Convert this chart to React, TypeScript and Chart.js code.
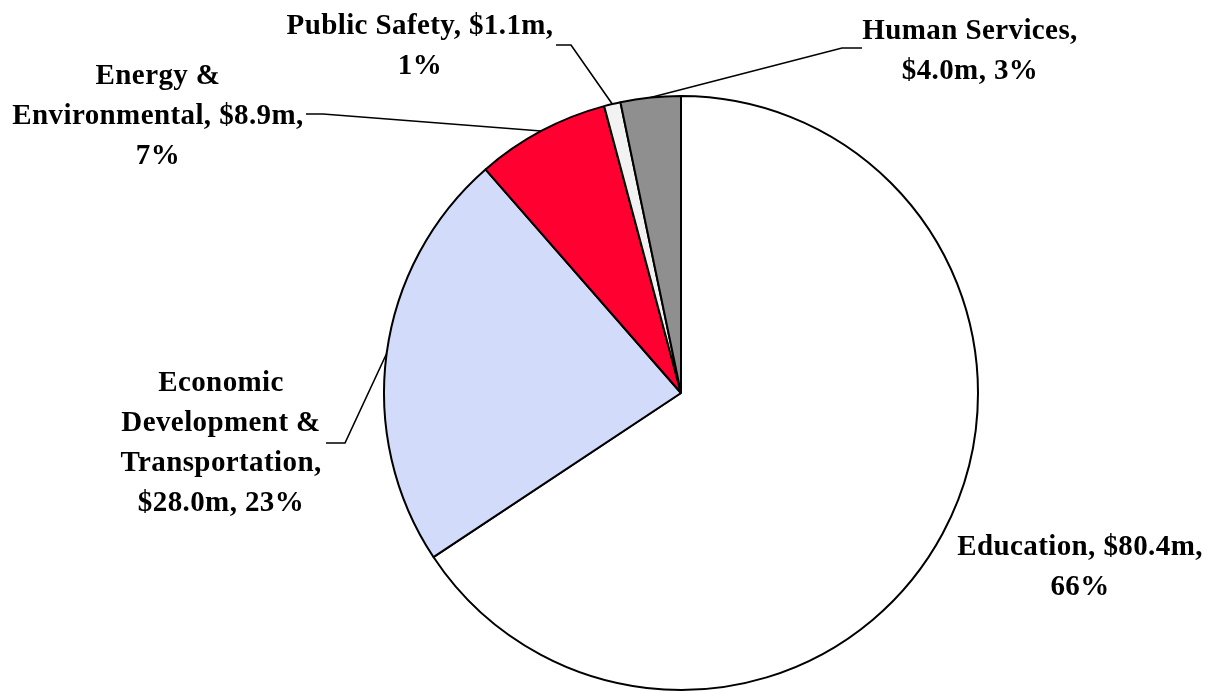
import React, { useEffect, useRef } from "react";
import { Chart, registerables } from "chart.js";

Chart.register(...registerables);

const categories = [
  "Education",
  "Economic Development & Transportation",
  "Energy & Environmental",
  "Public Safety",
  "Human Services",
];
const valuesMillions = [80.4, 28.0, 8.9, 1.1, 4.0];
const percentLabels = ["66%", "23%", "7%", "1%", "3%"];
const sliceColors = ["#FFFFFF", "#D3DBFB", "#FF0030", "#F2F2F2", "#8F8F8F"];

// wrapped label lines for each slice (same order as categories)
const labelLines: string[][] = [
  [`Education, $${valuesMillions[0].toFixed(1)}m,`, percentLabels[0]],
  ["Economic", "Development &", "Transportation,", `$${valuesMillions[1].toFixed(1)}m, ${percentLabels[1]}`],
  ["Energy &", `Environmental, $${valuesMillions[2].toFixed(1)}m,`, percentLabels[2]],
  [`Public Safety, $${valuesMillions[3].toFixed(1)}m,`, percentLabels[3]],
  ["Human Services,", `$${valuesMillions[4].toFixed(1)}m, ${percentLabels[4]}`],
];

// layout of labels: center x, first line center y, leader elbow points (or null)
const labelLayout = [
  { x: 1080, y: 548, leader: null as null | number[][] },
  { x: 221, y: 384, leader: [[326, 443], [345, 443]] },
  { x: 158, y: 77, leader: [[306, 114], [323, 114]] },
  { x: 420, y: 27, leader: [[556, 45], [571, 45]] },
  { x: 970, y: 32, leader: [[862, 48], [842, 48]] },
];
const LINE_STEP = 40;

const labelPlugin = {
  id: "pieLabels",
  afterDraw(chart: any) {
    const ctx = chart.ctx;
    const meta = chart.getDatasetMeta(0);
    ctx.save();
    ctx.fillStyle = "#000";
    ctx.font = "bold 29px 'Liberation Serif', 'Times New Roman', serif";
    try {
      (ctx as any).letterSpacing = "0.4px";
    } catch (e) {}
    ctx.textAlign = "center";
    ctx.textBaseline = "middle";
    labelLines.forEach((lines, i) => {
      const lay = labelLayout[i];
      lines.forEach((ln, j) => ctx.fillText(ln, lay.x, lay.y + j * LINE_STEP));
      if (lay.leader) {
        const arc = meta.data[i];
        const mid = (arc.startAngle + arc.endAngle) / 2;
        const px = arc.x + Math.cos(mid) * arc.outerRadius;
        const py = arc.y + Math.sin(mid) * arc.outerRadius;
        ctx.beginPath();
        ctx.strokeStyle = "#000";
        ctx.lineWidth = 1.6;
        ctx.moveTo(lay.leader[0][0], lay.leader[0][1]);
        ctx.lineTo(lay.leader[1][0], lay.leader[1][1]);
        ctx.lineTo(px, py);
        ctx.stroke();
      }
    });
    ctx.restore();
  },
};

export default function App() {
  const ref = useRef<HTMLCanvasElement>(null);
  useEffect(() => {
    if (!ref.current) return;
    const chart = new Chart(ref.current, {
      type: "pie",
      data: {
        labels: categories,
        datasets: [
          {
            data: valuesMillions,
            backgroundColor: sliceColors,
            borderColor: "#000",
            borderWidth: 2,
            hoverOffset: 0,
          },
        ],
      },
      options: {
        animation: false,
        responsive: true,
        maintainAspectRatio: false,
        layout: { padding: { left: 383, right: 230, top: 94, bottom: 0 } },
        plugins: {
          legend: { display: false },
          tooltip: { enabled: false },
        },
      },
      plugins: [labelPlugin],
    });
    return () => chart.destroy();
  }, []);
  return (
    <div style={{ position: "fixed", left: 0, top: 0, width: 1209, height: 692, background: "#fff" }}>
      <canvas ref={ref} />
    </div>
  );
}
